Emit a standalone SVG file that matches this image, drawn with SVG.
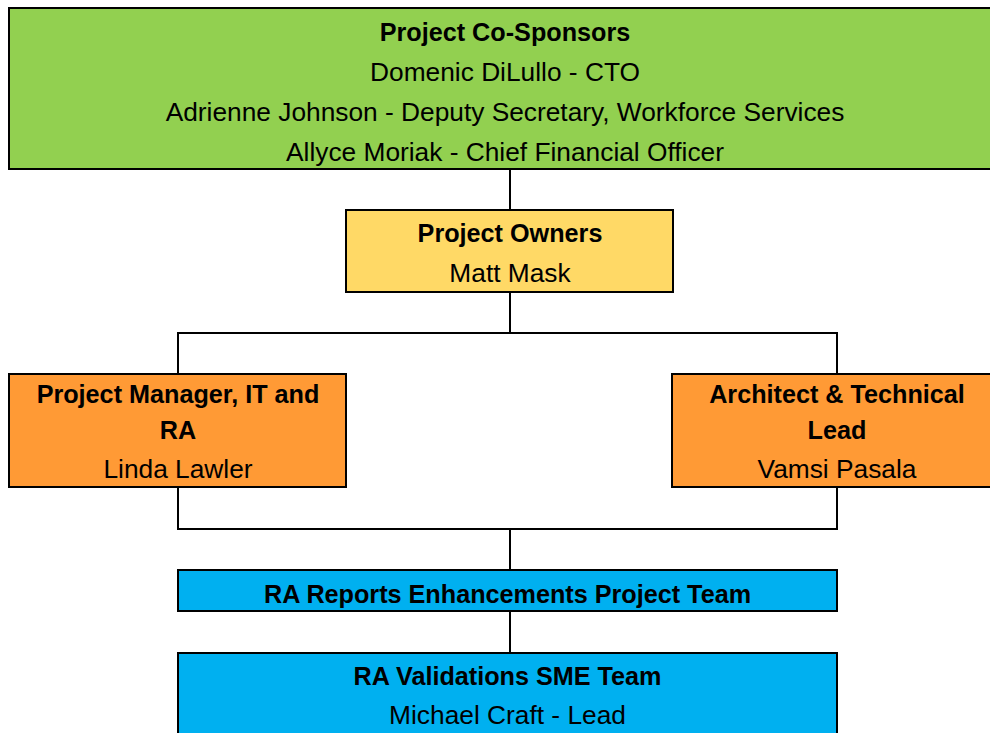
<svg xmlns="http://www.w3.org/2000/svg" width="990" height="733" viewBox="0 0 990 733">
<style>
.box{stroke:#000;stroke-width:2}
.g{fill:#92D050}.y{fill:#FFD966}.o{fill:#FF9A35}.b{fill:#00B0F0}
text{font-family:"Liberation Sans",Arial,sans-serif;fill:#000;text-anchor:middle}
.t{font-weight:bold;font-size:25.2px}
.n{font-size:26.3px}
.conn{fill:none;stroke:#000;stroke-width:2}
</style>
<rect width="990" height="733" fill="#fff"/>
<g id="connectors" class="conn">
<path d="M510 169V210"/>
<path d="M510 292V333"/>
<path d="M178 374V333H837V374"/>
<path d="M178 487V529H837V487"/>
<path d="M510 529V570"/>
<path d="M510 611V653"/>
</g>
<g id="sponsors">
<rect class="box g" x="9" y="8" width="993" height="161"/>
<text class="t" x="505" y="41">Project Co-Sponsors</text>
<text class="n" x="505" y="81">Domenic DiLullo - CTO</text>
<text class="n" x="505" y="121">Adrienne Johnson - Deputy Secretary, Workforce Services</text>
<text class="n" x="505" y="161">Allyce Moriak - Chief Financial Officer</text>
</g>
<g id="owners">
<rect class="box y" x="346" y="210" width="327" height="82"/>
<text class="t" x="510" y="242">Project Owners</text>
<text class="n" x="510" y="282">Matt Mask</text>
</g>
<g id="pm">
<rect class="box o" x="9" y="374" width="337" height="113"/>
<text class="t" x="178" y="403">Project Manager, IT and</text>
<text class="t" x="178" y="439">RA</text>
<text class="n" x="178" y="478">Linda Lawler</text>
</g>
<g id="architect">
<rect class="box o" x="672" y="374" width="330" height="113"/>
<text class="t" x="837" y="403">Architect &amp; Technical</text>
<text class="t" x="837" y="439">Lead</text>
<text class="n" x="837" y="478">Vamsi Pasala</text>
</g>
<g id="team">
<rect class="box b" x="178" y="570" width="659" height="41"/>
<text class="t" x="507.5" y="603">RA Reports Enhancements Project Team</text>
</g>
<g id="sme">
<rect class="box b" x="178" y="653" width="659" height="100"/>
<text class="t" x="507.5" y="685">RA Validations SME Team</text>
<text class="n" x="507.5" y="724">Michael Craft - Lead</text>
</g>
</svg>
